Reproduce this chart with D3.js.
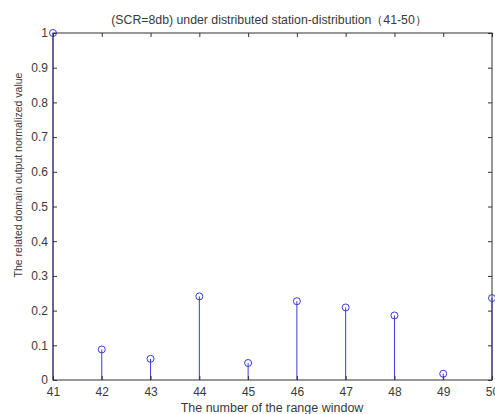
<!DOCTYPE html>
<html>
<head>
<meta charset="utf-8">
<script src="https://cdn.jsdelivr.net/npm/d3@7"></script>
<style>
  body { margin: 0; background: #fff; }
  svg text { font-family: 'Liberation Sans', Arial, sans-serif; fill: #3a3a3a; }
</style>
</head>
<body>
<div id="chart"></div>
<script>
const windows = [41, 42, 43, 44, 45, 46, 47, 48, 49, 50];
const values = [1, 0.088, 0.061, 0.241, 0.049, 0.227, 0.209, 0.186, 0.018, 0.236];
const yTicks = [0, 0.1, 0.2, 0.3, 0.4, 0.5, 0.6, 0.7, 0.8, 0.9, 1];
const title = '(SCR=8db) under distributed station-distribution\uff0841-50\uff09';
const xLabel = 'The number of the range window';
const yLabel = 'The related domain output normalized value';

const width = 495, height = 414;
const margin = {top: 33, right: 3, bottom: 34, left: 53};
const innerW = width - margin.left - margin.right;
const innerH = height - margin.top - margin.bottom;

const svg = d3.select('#chart')
    .append('svg')
    .attr('width', width)
    .attr('height', height);

const g = svg.append('g')
    .attr('transform', 'translate(' + margin.left + ',' + margin.top + ')');

const x = d3.scaleLinear().domain([41, 50]).range([0, innerW]);
const y = d3.scaleLinear().domain([0, 1]).range([innerH, 0]);

const axisColor = '#333';
const stemColor = '#3b3bd6';
const data = windows.map((w, i) => ({w: w, v: values[i]}));

// stems first, frame drawn over them
g.selectAll('.stem')
    .data(data)
    .enter()
    .append('line')
        .classed('stem', true)
        .attr('x1', d => x(d.w))
        .attr('x2', d => x(d.w))
        .attr('y1', y(0))
        .attr('y2', d => y(d.v))
        .attr('stroke', stemColor)
        .attr('stroke-width', 1);

g.append('rect')
    .attr('width', innerW)
    .attr('height', innerH)
    .attr('fill', 'none')
    .attr('stroke', axisColor)
    .attr('stroke-width', 1);

// bottom axis, ticks inward
const xAxis = g.append('g')
    .attr('transform', 'translate(0,' + innerH + ')')
    .call(d3.axisBottom(x).tickValues(windows).tickSize(-4).tickPadding(7).tickFormat(d3.format('d')));
xAxis.select('.domain').remove();
xAxis.selectAll('line').attr('stroke', axisColor);
xAxis.selectAll('text').style('font-size', '12px');

const xTop = g.append('g')
    .call(d3.axisTop(x).tickValues(windows).tickSize(-4).tickFormat(''));
xTop.select('.domain').remove();
xTop.selectAll('line').attr('stroke', axisColor);

const yAxis = g.append('g')
    .call(d3.axisLeft(y).tickValues(yTicks).tickSize(-4).tickPadding(5).tickFormat(d => d === 0 || d === 1 ? d : d3.format('.1f')(d)));
yAxis.select('.domain').remove();
yAxis.selectAll('line').attr('stroke', axisColor);
yAxis.selectAll('text').style('font-size', '12px');

const yRight = g.append('g')
    .attr('transform', 'translate(' + innerW + ',0)')
    .call(d3.axisRight(y).tickValues(yTicks).tickSize(-4).tickFormat(''));
yRight.select('.domain').remove();
yRight.selectAll('line').attr('stroke', axisColor);

g.selectAll('.marker')
    .data(data)
    .enter()
    .append('circle')
        .classed('marker', true)
        .attr('cx', d => x(d.w))
        .attr('cy', d => y(d.v))
        .attr('r', 3.5)
        .attr('fill', 'none')
        .attr('stroke', stemColor)
        .attr('stroke-width', 1);

// labels
svg.append('text')
    .attr('x', 269)
    .attr('y', 24)
    .attr('text-anchor', 'middle')
    .style('font-size', '12.3px')
    .text(title);

svg.append('text')
    .attr('x', 272)
    .attr('y', 412)
    .attr('text-anchor', 'middle')
    .style('font-size', '12.5px')
    .text(xLabel);

svg.append('text')
    .attr('transform', 'translate(22,175) rotate(-90)')
    .attr('text-anchor', 'middle')
    .style('font-size', '10.5px')
    .text(yLabel);
</script>
</body>
</html>
